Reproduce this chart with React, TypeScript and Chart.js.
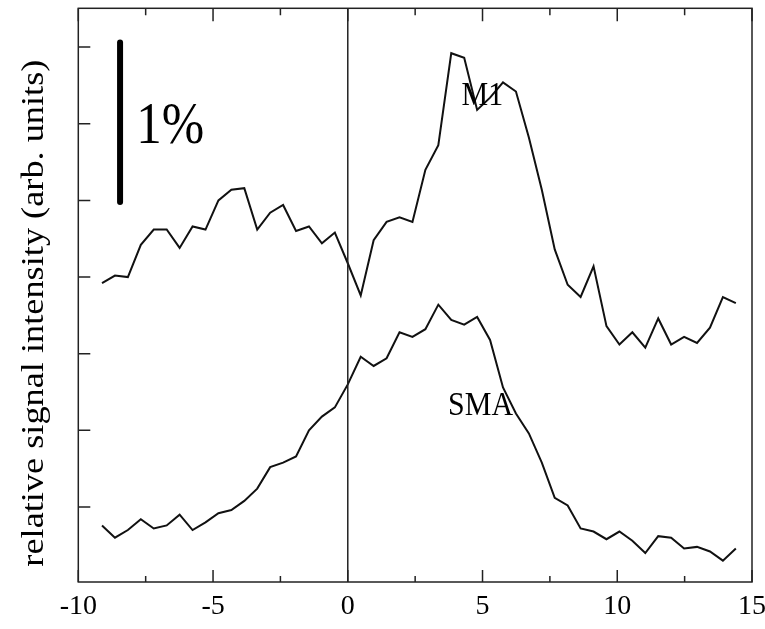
import React, { useEffect, useRef } from "react";
import { Chart, registerables } from "chart.js";

Chart.register(...registerables);

// time axis (s) for each sample
const timeValues = [
  -9.12, -8.64, -8.16, -7.68, -7.2, -6.72, -6.24, -5.76, -5.28, -4.8,
  -4.32, -3.84, -3.36, -2.88, -2.4, -1.92, -1.44, -0.96, -0.48, 0,
  0.48, 0.96, 1.44, 1.92, 2.4, 2.88, 3.36, 3.84, 4.32, 4.8,
  5.28, 5.76, 6.24, 6.72, 7.2, 7.68, 8.16, 8.64, 9.12, 9.6,
  10.08, 10.56, 11.04, 11.52, 12.0, 12.48, 12.96, 13.44, 13.92, 14.4,
];

// relative signal (%), arbitrary offset
const m1Values = [
  1.46, 1.51, 1.5, 1.71, 1.81, 1.81, 1.69, 1.83, 1.81, 2.0,
  2.07, 2.08, 1.81, 1.92, 1.97, 1.8, 1.83, 1.72, 1.79, 1.59,
  1.38, 1.74, 1.86, 1.89, 1.86, 2.2, 2.36, 2.96, 2.93, 2.59,
  2.67, 2.77, 2.71, 2.41, 2.07, 1.68, 1.45, 1.37, 1.57, 1.18,
  1.06, 1.14, 1.04, 1.23, 1.06, 1.11, 1.07, 1.17, 1.37, 1.33,
];

const smaValues = [
  -0.12, -0.2, -0.15, -0.08, -0.14, -0.12, -0.05, -0.15, -0.1, -0.04,
  -0.02, 0.04, 0.12, 0.26, 0.29, 0.33, 0.5, 0.59, 0.65, 0.8,
  0.98, 0.92, 0.97, 1.14, 1.11, 1.16, 1.32, 1.22, 1.19, 1.24,
  1.09, 0.78, 0.61, 0.48, 0.29, 0.06, 0.01, -0.14, -0.16, -0.21,
  -0.16, -0.22, -0.3, -0.19, -0.2, -0.27, -0.26, -0.29, -0.35, -0.27,
];

// 1% scale bar
const scaleBarX = [-8.45, -8.45];
const scaleBarY = [1.99, 3.03];

const xMajorTicks = [-10, -5, 0, 5, 10, 15];
const xMinorTicks = [-7.5, -2.5, 2.5, 7.5, 12.5];
const yTicks = [0, 0.5, 1, 1.5, 2, 2.5, 3];

const FONT = '"Liberation Serif", "Times New Roman", serif';
const INK = "#111";

function drawText(
  ctx: CanvasRenderingContext2D,
  text: string,
  x: number,
  y: number,
  size: number,
  sx: number,
  sy: number,
  rot: number,
  align: CanvasTextAlign
) {
  ctx.save();
  ctx.translate(x, y);
  ctx.rotate(rot);
  ctx.scale(sx, sy);
  ctx.font = `${size}px ${FONT}`;
  ctx.fillStyle = "#000";
  ctx.textAlign = align;
  ctx.textBaseline = "alphabetic";
  ctx.fillText(text, 0, 0);
  ctx.restore();
}

const decorPlugin = {
  id: "decor",
  afterDatasetsDraw(chart: any) {
    const { ctx, chartArea: a, scales } = chart;
    const xs = scales.x;
    const ys = scales.y;
    ctx.save();
    ctx.strokeStyle = "#222";
    ctx.lineWidth = 1.5;
    // zero line
    const x0 = xs.getPixelForValue(0);
    ctx.beginPath();
    ctx.moveTo(x0, a.top);
    ctx.lineTo(x0, a.bottom);
    ctx.stroke();
    // inward ticks
    ctx.beginPath();
    xMajorTicks.forEach((v) => {
      const px = xs.getPixelForValue(v);
      ctx.moveTo(px, a.bottom);
      ctx.lineTo(px, a.bottom - 12);
      ctx.moveTo(px, a.top);
      ctx.lineTo(px, a.top + 13);
    });
    xMinorTicks.forEach((v) => {
      const px = xs.getPixelForValue(v);
      ctx.moveTo(px, a.bottom);
      ctx.lineTo(px, a.bottom - 6);
      ctx.moveTo(px, a.top);
      ctx.lineTo(px, a.top + 7);
    });
    yTicks.forEach((v) => {
      const py = ys.getPixelForValue(v);
      ctx.moveTo(a.left, py);
      ctx.lineTo(a.left + 12, py);
    });
    ctx.stroke();
    // frame
    ctx.strokeRect(a.left, a.top, a.right - a.left, a.bottom - a.top);
    ctx.restore();

    // annotations
    drawText(ctx, "M1", xs.getPixelForValue(4.22), ys.getPixelForValue(2.62), 30, 1, 1.15, 0, "left");
    drawText(ctx, "SMA", xs.getPixelForValue(3.72), ys.getPixelForValue(0.6), 30, 1, 1.12, 0, "left");
    drawText(ctx, "1%", xs.getPixelForValue(-7.85), ys.getPixelForValue(2.374), 51, 1, 1.15, 0, "left");

    // y title, stretched along its length
    const title = "relative signal intensity (arb. units)";
    ctx.save();
    ctx.font = `31px ${FONT}`;
    const w = ctx.measureText(title).width;
    ctx.restore();
    const target = 507;
    drawText(ctx, title, 43, (a.top + a.bottom) / 2 + 18, 31, target / w, 1, -Math.PI / 2, "center");
  },
};

export default function App() {
  const ref = useRef<HTMLCanvasElement | null>(null);
  useEffect(() => {
    if (!ref.current) return;
    const line = (vals: number[]) => timeValues.map((t, i) => ({ x: t, y: vals[i] }));
    const chart = new Chart(ref.current, {
      type: "line",
      data: {
        datasets: [
          { label: "M1", data: line(m1Values), borderColor: INK, borderWidth: 2, pointRadius: 0, tension: 0 },
          { label: "SMA", data: line(smaValues), borderColor: INK, borderWidth: 2, pointRadius: 0, tension: 0 },
          {
            label: "scale",
            data: scaleBarX.map((x, i) => ({ x, y: scaleBarY[i] })),
            borderColor: "#000",
            borderWidth: 6,
            borderCapStyle: "round",
            pointRadius: 0,
          },
        ],
      },
      options: {
        animation: false,
        responsive: false,
        layout: { padding: { left: 0, top: 8.3, right: 13, bottom: 0 } },
        plugins: { legend: { display: false }, tooltip: { enabled: false } },
        scales: {
          x: {
            type: "linear",
            min: -10,
            max: 15,
            grid: { display: false, drawTicks: false },
            border: { display: false },
            ticks: {
              font: { family: FONT, size: 28 },
              color: "#000",
              padding: 8,
              maxRotation: 0,
              autoSkip: false,
            },
            afterBuildTicks: (s: any) => {
              s.ticks = xMajorTicks.map((v) => ({ value: v }));
            },
            afterFit: (s: any) => {
              s.height = 47;
              s.paddingLeft = 0;
              s.paddingRight = 0;
            },
          },
          y: {
            type: "linear",
            min: -0.489,
            max: 3.253,
            grid: { display: false, drawTicks: false },
            border: { display: false },
            ticks: { display: false },
            afterBuildTicks: (s: any) => {
              s.ticks = yTicks.map((v) => ({ value: v }));
            },
            afterFit: (s: any) => {
              s.width = 78.3;
              s.paddingTop = 0;
              s.paddingBottom = 0;
            },
          },
        },
      },
      plugins: [decorPlugin],
    } as any);
    return () => chart.destroy();
  }, []);
  return (
    <div style={{ position: "fixed", left: 0, top: 0, width: 765, height: 629, background: "#fff" }}>
      <canvas ref={ref} width={765} height={629} />
    </div>
  );
}
